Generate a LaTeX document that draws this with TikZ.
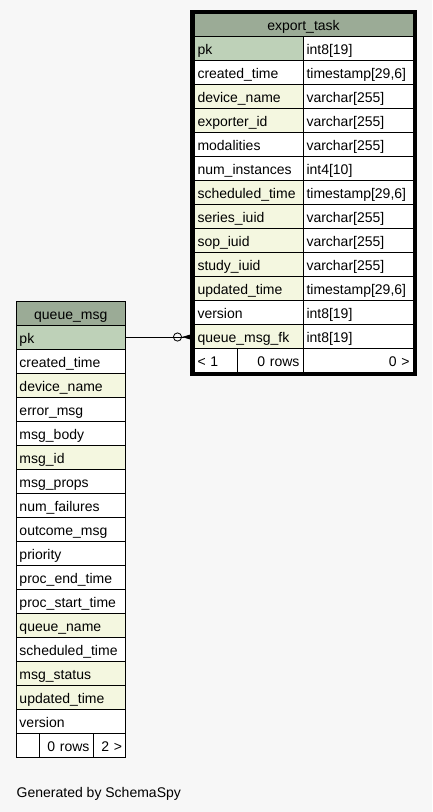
\documentclass[tikz,border=0pt]{standalone}
\usepackage{fontspec}
\setmainfont{Liberation Sans}
\usetikzlibrary{positioning,calc,arrows.meta}

\definecolor{bgc}{HTML}{F7F7F7}
\definecolor{headc}{HTML}{9BAB96}
\definecolor{pkc}{HTML}{BED1B8}
\definecolor{idxc}{HTML}{F4F7E0}

\tikzstyle{cell}  = [rectangle, draw, line width=0.8pt, outer sep=0pt, inner xsep=3.5pt, inner ysep=0pt, minimum height=24pt, text height=12pt, text depth=0pt, align=left, fill=white, font=\fontsize{14}{16}\selectfont]
\tikzstyle{thead} = [cell, fill=headc, align=center]
\tikzstyle{ecol}  = [cell, text width=102pt]
\tikzstyle{etype} = [cell, text width=103pt]
\tikzstyle{qcol}  = [cell, text width=102.5pt]
\tikzstyle{pkey}  = [fill=pkc]
\tikzstyle{idx}   = [fill=idxc]
\tikzstyle{fk}    = [draw, line width=0.8pt, -{Circle[open,length=9pt,width=9pt]Triangle[reversed,length=12pt,width=7pt]}]

\begin{document}
\begin{tikzpicture}[x=1pt, y=1pt]

    \useasboundingbox[fill=bgc] (0,0) rectangle (432,-812);

    % export_task
    \node[thead, text width=212pt, minimum height=22.5pt, anchor=north west] (eh) at (194,-13.5) {export\_task};
    \node[ecol, pkey, below right=0pt of eh.south west] (e1) {pk};
    \node[etype, right=0pt of e1]       (t1) {int8[19]};
    \node[ecol, below=0pt of e1]        (e2) {created\_time};
    \node[etype, right=0pt of e2]       (t2) {timestamp[29,6]};
    \node[ecol, idx, below=0pt of e2]   (e3) {device\_name};
    \node[etype, right=0pt of e3]       (t3) {varchar[255]};
    \node[ecol, idx, below=0pt of e3]   (e4) {exporter\_id};
    \node[etype, right=0pt of e4]       (t4) {varchar[255]};
    \node[ecol, below=0pt of e4]        (e5) {modalities};
    \node[etype, right=0pt of e5]       (t5) {varchar[255]};
    \node[ecol, below=0pt of e5]        (e6) {num\_instances};
    \node[etype, right=0pt of e6]       (t6) {int4[10]};
    \node[ecol, idx, below=0pt of e6]   (e7) {scheduled\_time};
    \node[etype, right=0pt of e7]       (t7) {timestamp[29,6]};
    \node[ecol, idx, below=0pt of e7]   (e8) {series\_iuid};
    \node[etype, right=0pt of e8]       (t8) {varchar[255]};
    \node[ecol, idx, below=0pt of e8]   (e9) {sop\_iuid};
    \node[etype, right=0pt of e9]       (t9) {varchar[255]};
    \node[ecol, idx, below=0pt of e9]   (e10) {study\_iuid};
    \node[etype, right=0pt of e10]      (t10) {varchar[255]};
    \node[ecol, idx, below=0pt of e10]  (e11) {updated\_time};
    \node[etype, right=0pt of e11]      (t11) {timestamp[29,6]};
    \node[ecol, below=0pt of e11]       (e12) {version};
    \node[etype, right=0pt of e12]      (t12) {int8[19]};
    \node[ecol, idx, below=0pt of e12]  (qfk) {queue\_msg\_fk};
    \node[etype, right=0pt of qfk]      (t13) {int8[19]};
    \node[cell, text width=36pt, below right=0pt of qfk.south west]      (ef1) {< 1};
    \node[cell, text width=59pt, align=right, right=0pt of ef1]         (ef2) {0 rows};
    \node[cell, text width=103pt, align=right, right=0pt of ef2]        (ef3) {0 >};

    % queue_msg
    \node[thead, text width=102.5pt, anchor=north west] (qh) at (16,-301) {queue\_msg};
    \node[qcol, pkey, below=0pt of qh]  (qpk) {pk};
    \node[qcol, below=0pt of qpk]       (q2) {created\_time};
    \node[qcol, idx, below=0pt of q2]   (q3) {device\_name};
    \node[qcol, below=0pt of q3]        (q4) {error\_msg};
    \node[qcol, below=0pt of q4]        (q5) {msg\_body};
    \node[qcol, idx, below=0pt of q5]   (q6) {msg\_id};
    \node[qcol, below=0pt of q6]        (q7) {msg\_props};
    \node[qcol, below=0pt of q7]        (q8) {num\_failures};
    \node[qcol, below=0pt of q8]        (q9) {outcome\_msg};
    \node[qcol, below=0pt of q9]        (q10) {priority};
    \node[qcol, below=0pt of q10]       (q11) {proc\_end\_time};
    \node[qcol, below=0pt of q11]       (q12) {proc\_start\_time};
    \node[qcol, idx, below=0pt of q12]  (q13) {queue\_name};
    \node[qcol, below=0pt of q13]       (q14) {scheduled\_time};
    \node[qcol, idx, below=0pt of q14]  (q15) {msg\_status};
    \node[qcol, idx, below=0pt of q15]  (q16) {updated\_time};
    \node[qcol, below=0pt of q16]       (q17) {version};
    \node[cell, text width=16pt, below right=0pt of q17.south west]      (qf1) {};
    \node[cell, text width=47pt, align=right, right=0pt of qf1]         (qf2) {0 rows};
    \node[cell, text width=25.5pt, align=right, right=0pt of qf2]       (qf3) {2 >};

    % relation
    \path[fk] (qpk.east) -- (qpk.east -| qfk.west);

    % heavy frame of the selected table
    \draw[line width=4pt] ($(eh.north west)+(-2,2)$) rectangle ($(ef3.south east)+(2,-2)$);

    \node[anchor=base west, inner sep=0pt, font=\fontsize{14}{16}\selectfont] (gen) at (16.5,-797) {Generated by SchemaSpy};

\end{tikzpicture}
\end{document}
